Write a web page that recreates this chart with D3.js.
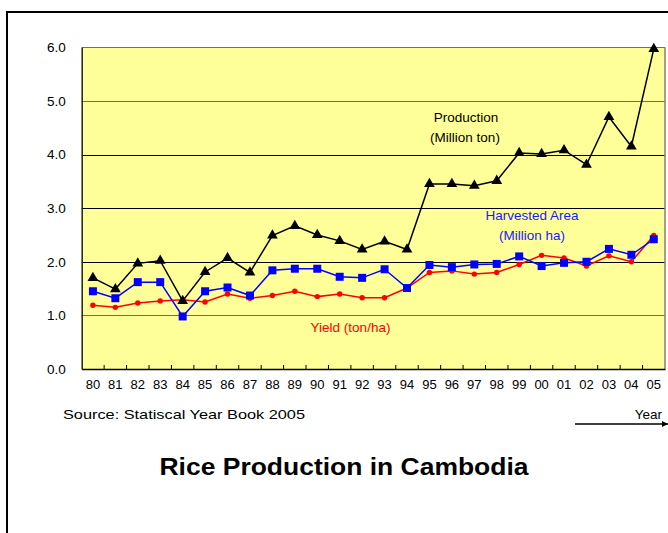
<!DOCTYPE html>
<html>
<head>
<meta charset="utf-8">
<script src="https://cdn.jsdelivr.net/npm/d3@7"></script>
<style>
  html, body { margin: 0; padding: 0; background: #fff; }
  svg { display: block; }
  text { font-family: "Liberation Sans", Arial, sans-serif; }
</style>
</head>
<body>
<svg id="chart" width="668" height="533"></svg>
<script>
// ---- Data ----
const years = ["80","81","82","83","84","85","86","87","88","89","90","91","92","93","94","95","96","97","98","99","00","01","02","03","04","05"];
const production = [1.70,1.49,1.97,2.02,1.27,1.81,2.07,1.80,2.49,2.67,2.50,2.39,2.23,2.38,2.23,3.45,3.45,3.42,3.51,4.03,4.01,4.08,3.81,4.70,4.15,5.97];
const harvestedArea = [1.45,1.32,1.62,1.62,0.98,1.45,1.52,1.37,1.84,1.87,1.87,1.72,1.70,1.86,1.51,1.94,1.90,1.95,1.96,2.10,1.92,1.98,2.00,2.24,2.13,2.42];
const yieldVals = [1.19,1.15,1.23,1.27,1.29,1.25,1.40,1.32,1.37,1.45,1.35,1.40,1.33,1.33,1.51,1.80,1.83,1.77,1.80,1.95,2.12,2.07,1.92,2.11,2.00,2.49];
const yTicks = [0,1,2,3,4,5,6];

const svg = d3.select("#chart");

// outer frame (cropped on right and bottom)
svg.append("rect").attr("x", 7).attr("y", 12).attr("width", 700).attr("height", 560)
  .attr("fill", "none").attr("stroke", "#000").attr("stroke-width", 2);

const pLeft = 81.7, pRight = 665, pTop = 47.3, pBottom = 369;
const x = d3.scaleBand().domain(years).range([pLeft, pRight]).padding(0);
const y = d3.scaleLinear().domain([0, 6]).range([pBottom, pTop]);
const cx = d => x(d) + x.bandwidth() / 2;

// plot background
svg.append("rect").attr("x", pLeft).attr("y", pTop).attr("width", pRight - pLeft).attr("height", pBottom - pTop)
  .attr("fill", "#ffff99");

// gridlines
svg.append("g").selectAll("line").data(yTicks.filter(v => v > 0)).join("line")
  .attr("x1", pLeft).attr("x2", pRight)
  .attr("y1", d => Math.round(y(d)) + 0.5).attr("y2", d => Math.round(y(d)) + 0.5)
  .attr("stroke", d => (d === 6 || d === 5 || d === 1) ? "#6e6e6e" : "#000")
  .attr("stroke-width", 1.2);

// right border
svg.append("line").attr("x1", pRight).attr("x2", pRight).attr("y1", pTop).attr("y2", pBottom)
  .attr("stroke", "#808080").attr("stroke-width", 1.5);

// y axis
const yAxis = d3.axisLeft(y).tickValues(yTicks).tickFormat(d3.format(".1f")).tickSize(0).tickPadding(16);
const gy = svg.append("g").attr("transform", `translate(${pLeft},0)`).call(yAxis);
gy.select(".domain").attr("stroke", "#222").attr("stroke-width", 1.5);
gy.selectAll("text").attr("font-size", 13.5).attr("fill", "#000")
  .attr("font-family", "'Liberation Sans', Arial, sans-serif");

// x axis
const xAxis = d3.axisBottom(x).tickSize(0).tickPadding(11);
const gx = svg.append("g").attr("transform", `translate(0,${pBottom})`).call(xAxis);
gx.select(".domain").attr("stroke", "#000").attr("stroke-width", 1.5);
gx.selectAll("text").attr("font-size", 13).attr("fill", "#000")
  .attr("font-family", "'Liberation Sans', Arial, sans-serif");
// inward category boundary ticks
svg.append("g").selectAll("line").data(years.slice(1)).join("line")
  .attr("x1", d => x(d)).attr("x2", d => x(d))
  .attr("y1", pBottom).attr("y2", pBottom - 4)
  .attr("stroke", "#000").attr("stroke-width", 1);

const line = d3.line().x((d, i) => cx(years[i])).y(d => y(d));

// Yield (red)
svg.append("path").datum(yieldVals).attr("d", line)
  .attr("fill", "none").attr("stroke", "#ff0000").attr("stroke-width", 1.5);
svg.append("g").selectAll("circle").data(yieldVals).join("circle")
  .attr("cx", (d, i) => cx(years[i])).attr("cy", d => y(d)).attr("r", 2.7)
  .attr("fill", "#ff0000");

// Harvested area (blue)
svg.append("path").datum(harvestedArea).attr("d", line)
  .attr("fill", "none").attr("stroke", "#0000ff").attr("stroke-width", 1.5);
svg.append("g").selectAll("rect").data(harvestedArea).join("rect")
  .attr("x", (d, i) => cx(years[i]) - 4).attr("y", d => y(d) - 4)
  .attr("width", 8).attr("height", 8).attr("fill", "#0000ff");

// Production (black)
svg.append("path").datum(production).attr("d", line)
  .attr("fill", "none").attr("stroke", "#000").attr("stroke-width", 1.5);
const tri = d3.symbol().type(d3.symbolTriangle).size(50);
svg.append("g").selectAll("path").data(production).join("path")
  .attr("transform", (d, i) => `translate(${cx(years[i])},${y(d)})`)
  .attr("d", tri).attr("fill", "#000");

// series labels
function label(txt, xc, yb, color) {
  svg.append("text").attr("x", xc).attr("y", yb).attr("text-anchor", "middle")
    .attr("font-size", 13.5).attr("fill", color).text(txt);
}
label("Production", 466, 121.5, "#000");
label("(Million ton)", 465, 141.5, "#000");
label("Harvested Area", 532, 220, "#1a1aff");
label("(Million ha)", 532, 240, "#1a1aff");
label("Yield (ton/ha)", 350.5, 331.5, "#ff0000");

// source & year
svg.append("text").attr("x", 63).attr("y", 418.5).attr("font-size", 13.5)
  .attr("textLength", 242).attr("lengthAdjust", "spacingAndGlyphs")
  .text("Source: Statiscal Year Book 2005");
svg.append("text").attr("x", 662).attr("y", 419).attr("text-anchor", "end").attr("font-size", 13.5)
  .text("Year");

svg.append("defs").append("marker").attr("id", "arr").attr("viewBox", "0 0 10 10")
  .attr("refX", 10).attr("refY", 5).attr("markerWidth", 6).attr("markerHeight", 6)
  .attr("markerUnits", "userSpaceOnUse").attr("orient", "auto")
  .append("path").attr("d", "M0,0 L10,5 L0,10 z").attr("fill", "#000");
svg.append("line").attr("x1", 575).attr("x2", 668).attr("y1", 424).attr("y2", 424)
  .attr("stroke", "#000").attr("stroke-width", 1.5).attr("marker-end", "url(#arr)");

// title
svg.append("text").attr("x", 159.5).attr("y", 475).attr("font-size", 23).attr("font-weight", "bold")
  .attr("textLength", 369).attr("lengthAdjust", "spacingAndGlyphs")
  .text("Rice Production in Cambodia");
</script>
</body>
</html>
